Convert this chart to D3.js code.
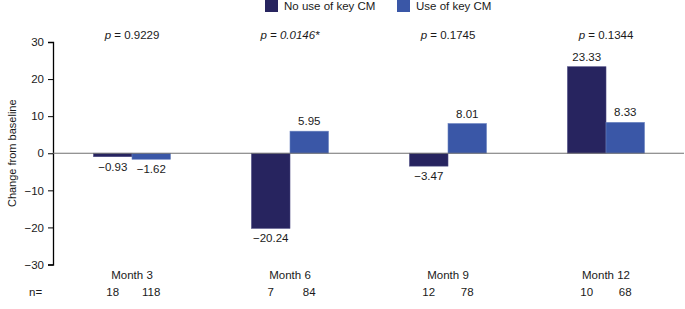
<!DOCTYPE html>
<html>
<head>
<meta charset="utf-8">
<script src="https://cdn.jsdelivr.net/npm/d3@7"></script>
<style>
  body { margin: 0; background: #fff; }
  text { font-family: "Liberation Sans", Arial, sans-serif; fill: #1a1a1a; }
</style>
</head>
<body>
<script>
// chart data
var months = ["Month 3", "Month 6", "Month 9", "Month 12"];
var series = ["No use of key CM", "Use of key CM"];
var noUse = [-0.93, -20.24, -3.47, 23.33];
var use = [-1.62, 5.95, 8.01, 8.33];
var nNoUse = [18, 7, 12, 10];
var nUse = [118, 84, 78, 68];
var pValues = ["0.9229", "0.0146*", "0.1745", "0.1344"];
var pSignificant = [false, true, false, false];
var yTicks = [-30, -20, -10, 0, 10, 20, 30];

var colors = ["#27245f", "#3a57a7"];

var width = 685,
    height = 309;

var svg = d3.select("body").append("svg")
    .attr("width", width)
    .attr("height", height);

var x = d3.scaleBand().domain(months).range([53, 685]);
var y = d3.scaleLinear().domain([-30, 30]).range([264.5, 42]);

var barW = 38.5;

// y axis
var yAxis = svg.append("g")
    .attr("transform", "translate(53,0)")
    .call(d3.axisLeft(y).tickValues(yTicks).tickSize(5).tickFormat(function(d) {
        return d < 0 ? "\u2212" + Math.abs(d) : d;
    }));
yAxis.select(".domain").attr("stroke", "#000").attr("stroke-width", 1.3);
yAxis.selectAll(".tick line").attr("stroke", "#000");
yAxis.selectAll(".tick text")
    .attr("x", -9)
    .style("font-size", "11.5px")
    .style("font-family", "Liberation Sans, Arial, sans-serif")
    .attr("fill", "#1a1a1a");

svg.append("text")
    .attr("transform", "translate(16," + y(0) + ") rotate(-90)")
    .attr("text-anchor", "middle")
    .style("font-size", "11px")
    .text("Change from baseline");

// bars
var groups = svg.selectAll(".grp")
    .data(months)
    .enter().append("g")
    .attr("class", "grp");

var bars = [];
months.forEach(function(m, i) {
    bars.push({ m: m, s: 0, v: noUse[i] });
    bars.push({ m: m, s: 1, v: use[i] });
});

function barX(d) {
    var c = x(d.m) + x.bandwidth() / 2;
    return d.s === 0 ? c - barW : c;
}

svg.selectAll(".bar")
    .data(bars)
    .enter().append("rect")
    .attr("class", "bar")
    .attr("x", barX)
    .attr("width", barW)
    .attr("y", function(d) { return y(Math.max(0, d.v)); })
    .attr("height", function(d) { return Math.abs(y(d.v) - y(0)); })
    .attr("fill", function(d) { return colors[d.s]; })
    .attr("stroke", function(d) { return d.s === 0 ? "#4a4880" : "#6a82c0"; })
    .attr("stroke-width", 0.6);

svg.selectAll(".val")
    .data(bars)
    .enter().append("text")
    .attr("class", "val")
    .attr("x", function(d) { return barX(d) + barW / 2; })
    .attr("y", function(d) { return d.v < 0 ? y(d.v) + 14 : y(d.v) - 6; })
    .attr("text-anchor", "middle")
    .style("font-size", "11.5px")
    .text(function(d) {
        return d.v < 0 ? "\u2212" + Math.abs(d.v).toFixed(2) : d.v.toFixed(2);
    });

// zero line
svg.append("line")
    .attr("x1", 53).attr("x2", 684)
    .attr("y1", y(0)).attr("y2", y(0))
    .attr("stroke", "#707070")
    .attr("stroke-width", 1.2);

// p values
var pText = svg.selectAll(".pval")
    .data(months)
    .enter().append("text")
    .attr("class", "pval")
    .attr("x", function(d) { return x(d) + x.bandwidth() / 2; })
    .attr("y", 39)
    .attr("text-anchor", "middle")
    .style("font-size", "11.5px");
pText.append("tspan").style("font-style", "italic").text("p");
pText.append("tspan")
    .style("font-style", function(d, i) { return pSignificant[i] ? "italic" : "normal"; })
    .text(function(d, i) { return " = " + pValues[i]; });

// month labels and n
svg.selectAll(".mlab")
    .data(months)
    .enter().append("text")
    .attr("class", "mlab")
    .attr("x", function(d) { return x(d) + x.bandwidth() / 2; })
    .attr("y", 279)
    .attr("text-anchor", "middle")
    .style("font-size", "11.5px")
    .text(function(d) { return d; });

svg.append("text")
    .attr("x", 29).attr("y", 296)
    .style("font-size", "11.5px")
    .text("n=");

var nData = [];
months.forEach(function(m, i) {
    nData.push({ m: m, s: 0, v: nNoUse[i] });
    nData.push({ m: m, s: 1, v: nUse[i] });
});
svg.selectAll(".nlab")
    .data(nData)
    .enter().append("text")
    .attr("class", "nlab")
    .attr("x", function(d) { return barX(d) + barW / 2; })
    .attr("y", 296)
    .attr("text-anchor", "middle")
    .style("font-size", "11.5px")
    .text(function(d) { return d.v; });

// legend
var legX = [265, 397];
var leg = svg.selectAll(".leg")
    .data(series)
    .enter().append("g")
    .attr("class", "leg")
    .attr("transform", function(d, i) { return "translate(" + legX[i] + ",0)"; });
leg.append("rect")
    .attr("x", 0).attr("y", 0)
    .attr("width", 13).attr("height", 12)
    .attr("fill", function(d, i) { return colors[i]; });
leg.append("text")
    .attr("x", 19).attr("y", 10)
    .style("font-size", "11.5px")
    .text(function(d) { return d; });
</script>
</body>
</html>
